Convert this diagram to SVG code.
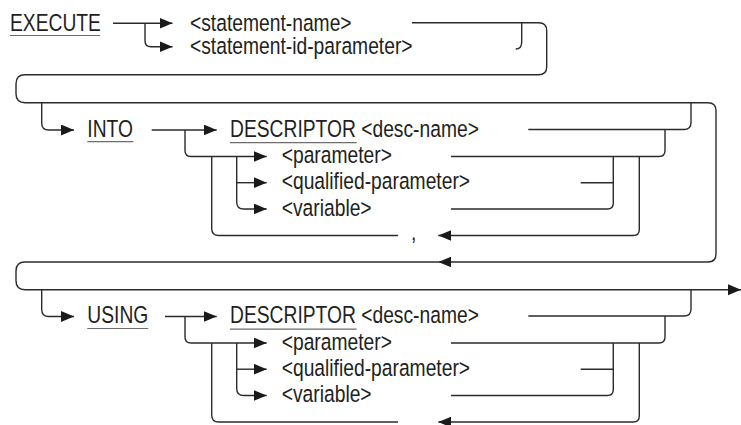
<svg xmlns="http://www.w3.org/2000/svg" width="741" height="425" viewBox="0 0 741 425">
<style>
  .t { font-family: "Liberation Sans", Arial, sans-serif; font-size: 23.5px; fill: #231f20; }
  .c path { fill: none; stroke: #2b2b2b; stroke-width: 1.4; }
  .u { stroke: #6d6d6d; stroke-width: 1.2; }
</style>
<defs>
  <marker id="ah" markerUnits="userSpaceOnUse" markerWidth="14" markerHeight="12" refX="13" refY="5.5" orient="auto">
    <path d="M0,0 L13,5.5 L0,11 Z" fill="#1a1a1a"/>
  </marker>
</defs>
<g id="execute"><text class="t" transform="translate(10,31) scale(0.82,1)">EXECUTE</text><line class="u" x1="10" y1="35.5" x2="100" y2="35.5"/></g>
<g id="statement-name"><text class="t" transform="translate(190,30.5) scale(0.82,1)">&lt;statement-name&gt;</text></g>
<g id="statement-id-parameter"><text class="t" transform="translate(190,54) scale(0.82,1)">&lt;statement-id-parameter&gt;</text></g>
<g id="into"><text class="t" transform="translate(87.3,136.5) scale(0.82,1)">INTO</text><line class="u" x1="87.3" y1="141.7" x2="133.3" y2="141.7"/></g>
<g id="into-descriptor"><text class="t" transform="translate(230,136.5) scale(0.82,1)">DESCRIPTOR &lt;desc-name&gt;</text><line class="u" x1="230" y1="142.7" x2="356.7" y2="142.7"/></g>
<g id="into-parameter"><text class="t" transform="translate(281.7,163) scale(0.82,1)">&lt;parameter&gt;</text></g>
<g id="into-qualified-parameter"><text class="t" transform="translate(281.7,189.3) scale(0.82,1)">&lt;qualified-parameter&gt;</text></g>
<g id="into-variable"><text class="t" transform="translate(281.7,215.5) scale(0.82,1)">&lt;variable&gt;</text></g>
<g id="into-comma"><text class="t" transform="translate(411,240) scale(0.82,1)">,</text></g>
<g id="using"><text class="t" transform="translate(87.3,323) scale(0.82,1)">USING</text><line class="u" x1="87.3" y1="328.5" x2="148.3" y2="328.5"/></g>
<g id="using-descriptor"><text class="t" transform="translate(230,323) scale(0.82,1)">DESCRIPTOR &lt;desc-name&gt;</text><line class="u" x1="230" y1="329.2" x2="356.7" y2="329.2"/></g>
<g id="using-parameter"><text class="t" transform="translate(281.7,349.5) scale(0.82,1)">&lt;parameter&gt;</text></g>
<g id="using-qualified-parameter"><text class="t" transform="translate(281.7,375.7) scale(0.82,1)">&lt;qualified-parameter&gt;</text></g>
<g id="using-variable"><text class="t" transform="translate(281.7,402) scale(0.82,1)">&lt;variable&gt;</text></g>
<g id="connectors" class="c">
  <path d="M113,23.3 H172.5" marker-end="url(#ah)"/>
  <path d="M145,23.3 V40.7 Q145,46.7 151,46.7 H172.5" marker-end="url(#ah)"/>
  <path d="M412,22.7 H538.7 Q546.7,22.7 546.7,30.7 V66.7 Q546.7,74.7 538.7,74.7 H25 Q16,74.7 16,83.7 V93.7 Q16,102.7 25,102.7 H708 Q716,102.7 716,110.7 V254 Q716,262 708,262 H438.3" marker-end="url(#ah)"/>
  <path d="M521.7,22.7 V42 Q521.7,49 515.7,49"/>
  <path d="M438.3,262 H25 Q16,262 16,271 V280.7 Q16,289.7 25,289.7 H741" marker-end="url(#ah)"/>
  <path d="M41.7,102.7 V123 Q41.7,130 48.7,130 H74" marker-end="url(#ah)"/>
  <path d="M151.7,130 H216.7" marker-end="url(#ah)"/>
  <path d="M185,130 V150.5 Q185,156.5 191,156.5 H266.7" marker-end="url(#ah)"/>
  <path d="M236.7,156.5 V202 Q236.7,209 243.7,209 H266.7" marker-end="url(#ah)"/>
  <path d="M236.7,182.7 H266.7" marker-end="url(#ah)"/>
  <path d="M528.3,129.5 H684 Q691,129.5 691,122.5 V102.7"/>
  <path d="M451,156.5 H659 Q665,156.5 665,150.5 V129.5"/>
  <path d="M580.7,182.7 H613.3"/>
  <path d="M451,209 H607.3 Q613.3,209 613.3,203 V156.5"/>
  <path d="M639.3,156.5 V229.5 Q639.3,235.5 633.3,235.5 H438.3" marker-end="url(#ah)"/>
  <path d="M398,235.5 H218.7 Q211.7,235.5 211.7,228.5 V156.5"/>
  <path d="M41.7,289.7 V309.5 Q41.7,316.5 48.7,316.5 H74" marker-end="url(#ah)"/>
  <path d="M165,316.5 H216.7" marker-end="url(#ah)"/>
  <path d="M185,316.5 V337 Q185,343 191,343 H266.7" marker-end="url(#ah)"/>
  <path d="M236.7,343 V388.5 Q236.7,395.5 243.7,395.5 H266.7" marker-end="url(#ah)"/>
  <path d="M236.7,369.2 H266.7" marker-end="url(#ah)"/>
  <path d="M528.3,316 H684 Q691,316 691,309 V289.7"/>
  <path d="M451,343 H659 Q665,343 665,337 V316"/>
  <path d="M580.7,369.2 H613.3"/>
  <path d="M451,395.5 H607.3 Q613.3,395.5 613.3,389.5 V343"/>
  <path d="M639.3,343 V416 Q639.3,422 633.3,422 H438.3" marker-end="url(#ah)"/>
  <path d="M398,422 H218.7 Q211.7,422 211.7,415 V343"/>
</g>
</svg>
